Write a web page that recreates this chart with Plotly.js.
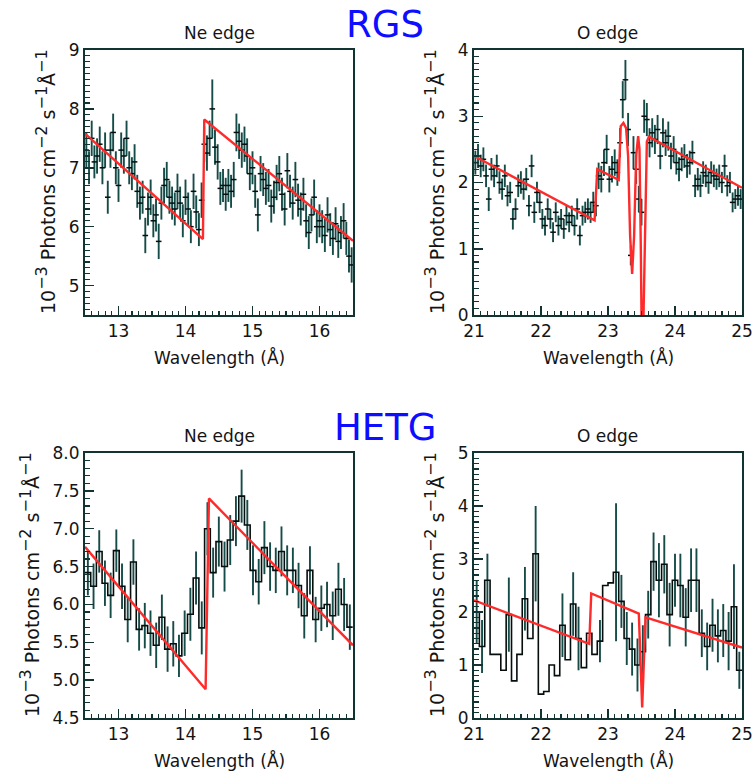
<!DOCTYPE html>
<html><head><meta charset="utf-8">
<script src="https://cdn.plot.ly/plotly-3.0.1.min.js"></script>
<style>html,body{margin:0;padding:0;background:#fff}</style>
</head><body><div id="chart" style="width:755px;height:775px"></div>
<script>
// ---------- DATA ----------
// RGS Ne edge (points, 0.04 A spacing starting 12.52)
const rgsNeStart = 12.52, rgsNeStep = 0.04;
const rgsNeFlux = [7.3,7.0,7.5,7.1,7.2,7.4,7.0,7.3,6.5,7.3,7.6,7.0,6.7,7.3,7.2,7.5,7.0,6.9,7.1,6.6,
6.4,6.5,5.85,6.3,6.5,6.1,6.2,5.75,6.4,6.7,6.8,6.5,6.4,6.3,6.6,6.4,6.1,6.5,6.3,6.0,
6.6,6.25,5.95,6.45,7.4,7.25,7.5,8.0,7.35,7.1,6.65,6.7,6.55,6.7,6.6,6.8,7.6,7.45,7.3,7.4,
7.2,6.9,7.0,6.6,6.2,6.9,6.8,6.65,6.7,6.35,6.5,6.75,6.9,6.55,6.3,6.95,6.6,6.4,6.8,6.45,
6.3,6.55,6.1,5.9,6.2,6.5,6.0,6.1,6.0,5.85,6.2,5.95,5.8,6.05,5.75,5.9,6.1,5.8,5.5,5.35];
const rgsNeErr = [0.3,0.28,0.3,0.28,0.3,0.3,0.28,0.3,0.28,0.3,0.32,0.28,0.28,0.3,0.3,0.3,0.28,0.28,0.3,0.28,
0.28,0.28,0.3,0.28,0.3,0.28,0.28,0.3,0.28,0.3,0.3,0.28,0.28,0.28,0.3,0.28,0.28,0.3,0.28,0.28,
0.3,0.28,0.28,0.3,0.3,0.3,0.3,0.5,0.3,0.3,0.28,0.28,0.28,0.28,0.28,0.3,0.32,0.3,0.3,0.3,
0.3,0.28,0.28,0.28,0.28,0.3,0.28,0.28,0.28,0.28,0.28,0.3,0.3,0.28,0.28,0.3,0.28,0.28,0.3,0.28,
0.28,0.28,0.28,0.28,0.28,0.3,0.28,0.28,0.28,0.28,0.3,0.28,0.28,0.28,0.28,0.28,0.3,0.28,0.28,0.3];
const rgsNeModelWave = [12.5,14.26,14.28,16.5];
const rgsNeModelFlux = [7.58,5.79,7.82,5.76];

// RGS O edge (points, 0.04 A spacing starting 21.02)
const rgsOStart = 21.02, rgsOStep = 0.04;
const rgsOFlux = [2.3,2.4,2.25,2.35,2.1,1.75,2.2,2.1,2.25,2.0,1.9,2.1,1.8,1.85,1.45,1.6,1.95,2.0,1.9,2.05,
1.65,2.25,1.55,1.85,1.7,1.45,1.35,1.6,1.45,1.25,1.55,1.35,1.45,1.3,1.5,1.4,1.5,1.35,1.6,1.2,
1.5,1.55,1.6,1.55,1.7,1.65,2.1,2.05,2.3,2.5,2.05,2.2,2.3,2.15,2.6,3.25,3.55,2.8,0.9,2.45,
2.2,1.75,1.55,3.0,2.95,2.6,2.75,2.65,2.8,2.4,2.75,2.6,2.7,2.4,2.5,2.3,2.2,2.35,2.4,2.25,
2.3,2.45,1.95,2.05,1.95,2.15,2.1,2.0,2.15,2.1,2.05,2.1,2.0,2.25,1.95,2.0,1.7,1.75,1.8,1.75];
const rgsOErr = [0.18,0.18,0.17,0.18,0.17,0.18,0.17,0.17,0.17,0.17,0.16,0.17,0.16,0.16,0.16,0.16,0.17,0.17,0.16,0.17,
0.16,0.17,0.16,0.16,0.16,0.15,0.15,0.16,0.15,0.15,0.15,0.15,0.15,0.15,0.15,0.15,0.15,0.15,0.16,0.15,
0.15,0.16,0.16,0.16,0.16,0.16,0.2,0.2,0.2,0.22,0.2,0.2,0.2,0.2,0.22,0.28,0.3,0.25,0.15,0.25,
0.22,0.2,0.2,0.25,0.25,0.22,0.22,0.22,0.22,0.2,0.22,0.2,0.22,0.2,0.2,0.18,0.18,0.18,0.18,0.18,
0.18,0.18,0.17,0.17,0.17,0.17,0.17,0.17,0.17,0.17,0.16,0.17,0.16,0.17,0.16,0.16,0.15,0.15,0.15,0.15];
const rgsOModelWave = [21.0,22.80,22.84,23.16,23.19,23.23,23.27,23.30,23.33,23.36,23.39,23.42,23.45,23.47,23.49,23.50,23.53,23.545,23.56,23.58,23.61,25.0];
const rgsOModelFlux = [2.40,1.43,2.2,2.04,2.85,2.9,2.82,2.4,1.2,0.62,1.2,2.4,2.7,2.5,1.0,0.0,0.0,1.0,2.0,2.62,2.69,1.92];

// HETG Ne edge (histogram, bin width 0.085 A starting 12.5)
const hetgNeStart = 12.5, hetgNeBin = 0.085;
const hetgNeFlux = [6.42,6.24,6.7,6.28,6.12,6.71,6.24,5.8,6.56,5.67,
5.72,5.62,5.46,5.83,5.41,5.48,5.32,5.62,5.87,6.35,
5.69,7.0,6.42,6.83,6.5,6.85,7.1,7.43,7.05,6.45,
6.3,6.75,6.5,6.45,6.7,6.45,6.45,6.25,5.85,6.45,
5.8,5.95,6.0,5.85,6.2,6.0,5.7];
const hetgNeErr = [0.3,0.3,0.28,0.3,0.3,0.28,0.3,0.3,0.3,0.28,
0.3,0.3,0.3,0.3,0.3,0.3,0.28,0.3,0.35,0.35,
0.35,0.35,0.33,0.33,0.33,0.33,0.33,0.35,0.33,0.33,
0.3,0.35,0.32,0.3,0.33,0.33,0.3,0.3,0.3,0.32,
0.3,0.3,0.3,0.32,0.35,0.35,0.3];
const hetgNeModelWave = [12.5,14.3,14.35,16.5];
const hetgNeModelFlux = [6.76,4.88,7.4,5.46];

// HETG O edge (histogram, bin width 0.08 A starting 21.0)
const hetgOStart = 21.0, hetgOBin = 0.08;
const hetgOFlux = [2.0,1.35,2.6,1.2,1.2,0.9,1.95,0.7,1.2,2.25,
1.5,3.1,0.45,0.5,1.0,0.8,1.75,1.1,2.15,1.5,
0.95,1.6,1.2,1.45,2.5,2.55,2.75,2.2,1.5,1.3,
1.0,1.25,1.95,2.95,2.6,2.9,1.95,2.6,2.5,1.9,
2.6,2.6,1.6,1.35,1.75,1.55,1.65,1.45,2.1,0.9];
const hetgOErr = [0.6,0.5,0.5,0,0,0,0.7,0,0,0.6,
0,0.9,0,0,0,0,0.6,0,0.6,0.6,
0,0,0,0.4,0,0,1.3,0.5,0.5,0.5,
0.5,0.5,0.45,0.55,0.7,0.55,0.6,0.5,0.6,0.55,
0.6,0.6,0.45,0.45,0.5,0.5,0.5,0.55,0.8,0.35];
const hetgOModelWave = [21.0,22.72,22.75,23.46,23.51,23.56,25.0];
const hetgOModelFlux = [2.22,1.4,2.35,1.97,0.2,1.9,1.33];

// ---------- BUILD ----------
const W = 755, H = 775;
const fx = v => v / W, fy = v => 1 - v / H;
const AX = '#113432', DATA = '#050d0d', ERR = '#164c48', RED = '#ff2b2b';

function grid(start, step, n){ const a=[]; for(let i=0;i<n;i++) a.push(+(start+step*i).toFixed(4)); return a; }
function centers(start, bin, n){ const a=[]; for(let i=0;i<n;i++) a.push(+(start+bin*(i+0.5)).toFixed(4)); return a; }
function edges(start, bin, n){ const a=[]; for(let i=0;i<=n;i++) a.push(+(start+bin*i).toFixed(4)); return a; }

function pointsTrace(x, y, e, n){
  return {x, y, type:'scatter', mode:'markers', xaxis:'x'+n, yaxis:'y'+n,
    marker:{symbol:'line-ew', size:4, line:{width:1.5, color:DATA}, color:DATA},
    error_y:{type:'data', array:e, visible:true, color:ERR, thickness:1.9, width:0},
    hoverinfo:'skip', showlegend:false};
}
function stepTrace(start, bin, flux, n){
  const xe = edges(start, bin, flux.length);
  const ye = flux.concat([flux[flux.length-1]]);
  return {x:xe, y:ye, type:'scatter', mode:'lines', line:{shape:'hv', color:DATA, width:1.6},
    xaxis:'x'+n, yaxis:'y'+n, hoverinfo:'skip', showlegend:false};
}
function errTrace(start, bin, flux, err, n){
  return {x:centers(start, bin, flux.length), y:flux, type:'scatter', mode:'markers',
    marker:{size:1, color:'rgba(0,0,0,0)'}, xaxis:'x'+n, yaxis:'y'+n,
    error_y:{type:'data', array:err, visible:true, color:ERR, thickness:1.9, width:0},
    hoverinfo:'skip', showlegend:false};
}
function modelTrace(x, y, n){
  return {x, y, type:'scatter', mode:'lines', line:{color:RED, width:2.4},
    xaxis:'x'+n, yaxis:'y'+n, hoverinfo:'skip', showlegend:false};
}

const traces = [
  pointsTrace(grid(rgsNeStart, rgsNeStep, rgsNeFlux.length), rgsNeFlux, rgsNeErr, 1),
  modelTrace(rgsNeModelWave, rgsNeModelFlux, 1),
  pointsTrace(grid(rgsOStart, rgsOStep, rgsOFlux.length), rgsOFlux, rgsOErr, 2),
  modelTrace(rgsOModelWave, rgsOModelFlux, 2),
  errTrace(hetgNeStart, hetgNeBin, hetgNeFlux, hetgNeErr, 3),
  stepTrace(hetgNeStart, hetgNeBin, hetgNeFlux, 3),
  modelTrace(hetgNeModelWave, hetgNeModelFlux, 3),
  errTrace(hetgOStart, hetgOBin, hetgOFlux, hetgOErr, 4),
  stepTrace(hetgOStart, hetgOBin, hetgOFlux, 4),
  modelTrace(hetgOModelWave, hetgOModelFlux, 4)
];

const tickFont = {family:'DejaVu Sans', size:17, color:'#141414'};
function axis(range, dtick, tick0, domain, anchor, fmt){
  return {range, domain, anchor, dtick, tick0, tickmode:'linear', ticks:'inside', ticklen:9, tickwidth:1.5,
    tickcolor:AX, mirror:true, showline:true, linecolor:AX, linewidth:2, showgrid:false,
    zeroline:false, tickformat:fmt || '', tickfont:tickFont, fixedrange:true,
    minor:{dtick:0.1, tick0:tick0, ticks:'inside', ticklen:4.5, tickwidth:1.2, tickcolor:AX, showgrid:false}};
}
// overlay axis that only draws ticks on the opposite side (top / right)
function mirrorAxis(range, dtick, tick0, over, anchor, side){
  return {range, overlaying:over, anchor, side, dtick, tick0, tickmode:'linear', ticks:'inside', ticklen:9,
    tickwidth:1.5, tickcolor:AX, showline:false, showgrid:false, zeroline:false, showticklabels:false,
    fixedrange:true,
    minor:{dtick:0.1, tick0:tick0, ticks:'inside', ticklen:4.5, tickwidth:1.2, tickcolor:AX, showgrid:false}};
}
const P = [
  {x0:85, x1:353, y0:50, y1:315},
  {x0:474, x1:742, y0:50, y1:315},
  {x0:85, x1:353, y0:453, y1:718},
  {x0:474, x1:742, y0:453, y1:718}
];
const dx = p => [fx(p.x0), fx(p.x1)], dy = p => [fy(p.y1), fy(p.y0)];

const titleFont = {family:'DejaVu Sans', size:17, color:'#141414'};
const yTitleFont = {family:'DejaVu Sans', size:19, color:'#141414'};
const bigFont = {family:'DejaVu Sans', size:37, color:'#0d0dff'};
const sp = s => '<sup><span style="font-size:16px">' + s + '</span></sup>';
const yTitle = '10' + sp('−3') + ' Photons cm' + sp('−2') + ' s' + sp('−1') + 'Å' + sp('−1');
function ann(text, x, y, font, angle){
  return {text, x:fx(x), y:fy(y), xref:'paper', yref:'paper', xanchor:'center', yanchor:'middle',
    showarrow:false, font, textangle:angle||0};
}
const annotations = [
  ann('RGS', 385, 24, bigFont), ann('HETG', 385, 427, bigFont),
  ann('Ne edge', 219, 33, titleFont), ann('O edge', 607, 33, titleFont),
  ann('Ne edge', 219, 436, titleFont), ann('O edge', 607, 436, titleFont),
  ann('Wavelength (Å)', 219, 357, titleFont), ann('Wavelength (Å)', 608, 357, titleFont),
  ann('Wavelength (Å)', 219, 760, titleFont), ann('Wavelength (Å)', 608, 760, titleFont),
  ann(yTitle, 45, 182, yTitleFont, -90), ann(yTitle, 434, 182, yTitleFont, -90),
  ann(yTitle, 29, 585, yTitleFont, -90), ann(yTitle, 434, 585, yTitleFont, -90)
];

const layout = {
  width:W, height:H, margin:{l:0, r:0, t:0, b:0}, paper_bgcolor:'#fff', plot_bgcolor:'#fff',
  showlegend:false, annotations,
  xaxis:  axis([12.5,16.5], 1, 13, dx(P[0]), 'y'),
  yaxis:  axis([4.5,9], 1, 5, dy(P[0]), 'x'),
  xaxis2: axis([21,25], 1, 21, dx(P[1]), 'y2'),
  yaxis2: axis([0,4], 1, 0, dy(P[1]), 'x2'),
  xaxis3: axis([12.5,16.5], 1, 13, dx(P[2]), 'y3'),
  yaxis3: axis([4.5,8.0], 0.5, 4.5, dy(P[2]), 'x3', '.1f'),
  xaxis4: axis([21,25], 1, 21, dx(P[3]), 'y4'),
  yaxis4: axis([0,5], 1, 0, dy(P[3]), 'x4'),
  xaxis5: mirrorAxis([12.5,16.5], 1, 13, 'x', 'y', 'top'),
  yaxis5: mirrorAxis([4.5,9], 1, 5, 'y', 'x', 'right'),
  xaxis6: mirrorAxis([21,25], 1, 21, 'x2', 'y2', 'top'),
  yaxis6: mirrorAxis([0,4], 1, 0, 'y2', 'x2', 'right'),
  xaxis7: mirrorAxis([12.5,16.5], 1, 13, 'x3', 'y3', 'top'),
  yaxis7: mirrorAxis([4.5,8.0], 0.5, 4.5, 'y3', 'x3', 'right'),
  xaxis8: mirrorAxis([21,25], 1, 21, 'x4', 'y4', 'top'),
  yaxis8: mirrorAxis([0,5], 1, 0, 'y4', 'x4', 'right')
};
Plotly.newPlot('chart', traces, layout, {staticPlot:true, displayModeBar:false});
</script></body></html>
